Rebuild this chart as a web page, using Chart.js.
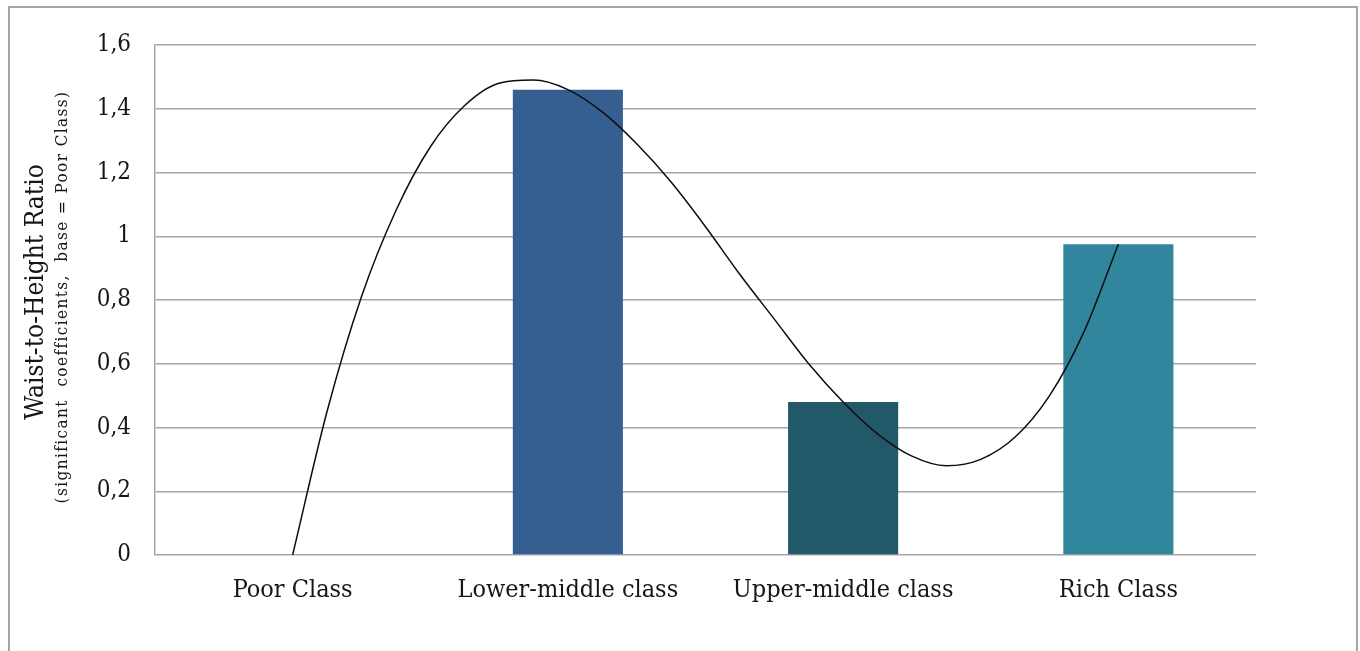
<!DOCTYPE html>
<html>
<head>
<meta charset="utf-8">
<title>Waist-to-Height Ratio by class</title>
<script src="https://cdn.jsdelivr.net/npm/chart.js@4/dist/chart.umd.min.js"></script>
<style>
  html, body { margin: 0; padding: 0; background: #ffffff; }
  #wrap { width: 1360px; height: 651px; position: relative; }
</style>
</head>
<body>
<div id="wrap"><canvas id="chart" width="1360" height="651"></canvas></div>
<script>
// Categories and bar values (base = Poor Class)
const categories = ['Poor Class', 'Lower-middle class', 'Upper-middle class', 'Rich Class'];
const ratioValues = [0, 1.46, 0.48, 0.975];
const barColors = ['#365f91', '#365f91', '#215968', '#31859c'];

// Trend curve sampled every 1/8 of a category (0 = Poor Class ... 3 = Rich Class)
const trendX = [0, 0.125, 0.25, 0.375, 0.5, 0.625, 0.75, 0.875, 1, 1.125, 1.25, 1.375, 1.5,
                1.625, 1.75, 1.875, 2, 2.125, 2.25, 2.375, 2.5, 2.625, 2.75, 2.875, 3];
const trendY = [0, 0.45, 0.81, 1.08, 1.28, 1.41, 1.48, 1.49, 1.46, 1.39, 1.29, 1.17, 1.03,
                0.88, 0.74, 0.60, 0.48, 0.38, 0.31, 0.28, 0.30, 0.37, 0.50, 0.70, 0.975];

// Y tick labels (decimal comma)
const yTickLabels = ['0', '0,2', '0,4', '0,6', '0,8', '1', '1,2', '1,4', '1,6'];

const axisTitle = 'Waist-to-Height Ratio';
const axisSubtitle = '(significant  coefficients,  base = Poor Class)';

const SERIF = '"DejaVu Serif Condensed", "DejaVu Serif", "Liberation Serif", serif';
const GRID = '#a6a6a6';
const TEXT = '#161616';

const framePlugin = {
  id: 'frame',
  beforeDraw(chart) {
    const ctx = chart.ctx;
    ctx.save();
    ctx.strokeStyle = GRID;
    ctx.lineWidth = 2;
    ctx.strokeRect(9, 7, 1348, 700);
    ctx.restore();
  },
  afterDraw(chart) {
    const ctx = chart.ctx;
    const area = chart.chartArea;
    const cy = (area.top + area.bottom) / 2;
    ctx.save();
    ctx.fillStyle = TEXT;
    ctx.textAlign = 'center';
    ctx.textBaseline = 'middle';
    ctx.translate(36, cy - 8);
    ctx.rotate(-Math.PI / 2);
    ctx.font = '26px ' + SERIF;
    ctx.fillText(axisTitle, 0, 0);
    ctx.restore();
    ctx.save();
    ctx.fillStyle = TEXT;
    ctx.textAlign = 'center';
    ctx.textBaseline = 'middle';
    ctx.translate(63, cy - 3);
    ctx.rotate(-Math.PI / 2);
    ctx.font = '17px ' + SERIF;
    ctx.letterSpacing = '1.4px';
    ctx.fillText(axisSubtitle, 0, 0);
    ctx.restore();
  }
};

new Chart(document.getElementById('chart'), {
  type: 'bar',
  data: {
    labels: categories,
    datasets: [
      {
        type: 'line',
        label: 'Trend',
        xAxisID: 'xt',
        data: trendX.map((x, i) => ({ x: x, y: trendY[i] })),
        borderColor: '#0d0d0d',
        borderWidth: 1.5,
        pointRadius: 0,
        fill: false,
        cubicInterpolationMode: 'monotone',
        order: 1
      },
      {
        type: 'bar',
        label: 'Waist-to-Height Ratio',
        xAxisID: 'x',
        data: ratioValues,
        backgroundColor: barColors,
        borderWidth: 0,
        grouped: false,
        barPercentage: 0.4,
        categoryPercentage: 1.0,
        order: 2
      }
    ]
  },
  options: {
    responsive: false,
    animation: false,
    layout: { padding: { top: 45, right: 104, bottom: 0, left: 0 } },
    plugins: {
      legend: { display: false },
      tooltip: { enabled: false }
    },
    scales: {
      x: {
        type: 'category',
        offset: true,
        grid: { display: false, drawTicks: false },
        border: { display: false },
        ticks: {
          color: TEXT,
          font: { family: SERIF, size: 25 },
          padding: 20,
          maxRotation: 0
        },
        afterFit(scale) { scale.height = 96; }
      },
      xt: {
        type: 'linear',
        display: false,
        min: -0.5,
        max: 3.5,
        offset: false
      },
      y: {
        min: 0,
        max: 1.6,
        ticks: {
          stepSize: 0.2,
          color: TEXT,
          font: { family: SERIF, size: 24 },
          padding: 24,
          callback: (v, i) => yTickLabels[i]
        },
        grid: { color: GRID, lineWidth: 1.5, drawTicks: false },
        border: { display: true, color: GRID, width: 1.5 },
        afterFit(scale) { scale.width = 155; }
      }
    }
  },
  plugins: [framePlugin]
});
</script>
</body>
</html>
